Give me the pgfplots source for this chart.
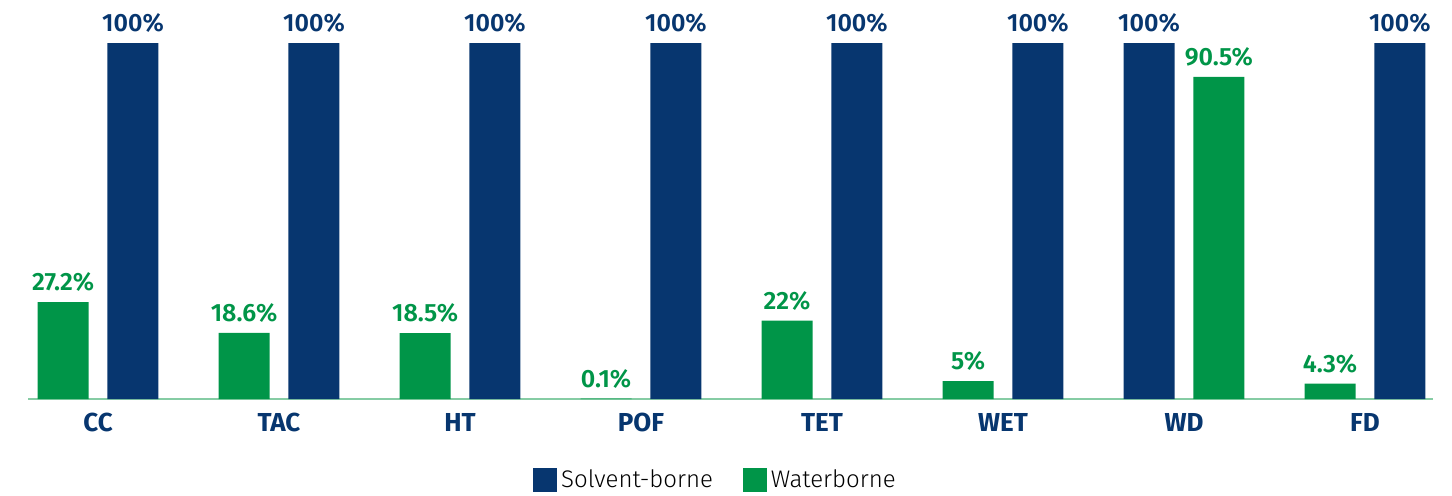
\documentclass[border=0pt]{standalone}
\usepackage{pgfplots}
\pgfplotsset{compat=1.18}
\usepackage{fontspec}
\setmainfont{Fira Sans}[BoldFont={* SemiBold}]
\newfontfamily\lightfont{Fira Sans Light}
\newfontfamily\heavyfont{Fira Sans Bold}

\definecolor{solvent}{HTML}{07366F}
\definecolor{water}{HTML}{009548}
\definecolor{baseline}{HTML}{86CCA4}

\begin{document}
\begin{tikzpicture}
\useasboundingbox (-14pt,-48pt) rectangle (712pt,199.5pt);
\begin{axis}[
  scale only axis,
  width=702.5pt, height=178pt,
  xmin=-0.387, xmax=7.376,
  ymin=0, ymax=100,
  clip=false,
  axis y line=none,
  axis x line*=bottom,
  axis line style={draw=baseline, line width=0.9pt, -},
  major tick length=0pt,
  xtick={0,1,2,3,4,5,6,7},
  xticklabels={CC,TAC,HT,POF,TET,WET,WD,FD},
  xticklabel style={anchor=center, yshift=-11.5pt, inner sep=0pt,
    text=solvent, font=\heavyfont\fontsize{13}{15}\selectfont},
  /pgf/number format/assume math mode=true,
  ybar, bar width=25.5pt, bar shift=0pt,
  nodes near coords={\pgfmathprintnumber[fixed,precision=1,assume math mode=true]{\pgfplotspointmeta}\%},
  every node near coord/.append style={anchor=south, inner sep=0pt, yshift=5pt,
    font=\bfseries\fontsize{12.5}{14}\selectfont},
  legend columns=2,
  legend style={at={(rel axis cs:0.49,-0.2275)}, anchor=center, draw=none,
    font=\lightfont\fontsize{12}{14}\selectfont,
    /tikz/every even column/.append style={column sep=13pt}},
  legend image code/.code={\fill[#1] (0pt,-6pt) rectangle (12pt,6pt);},
]
% Solvent-borne
\addplot[fill=solvent, draw=none, every node near coord/.append style={text=solvent}]
  coordinates {(0.193,100) (1.193,100) (2.193,100) (3.193,100)
               (4.193,100) (5.193,100) (5.807,100) (7.193,100)};
% Waterborne
\addplot[fill=water, draw=none, every node near coord/.append style={text=water}]
  coordinates {(-0.193,27.2) (0.807,18.6) (1.807,18.5) (2.807,0.1)
               (3.807,22) (4.807,5) (6.193,90.5) (6.807,4.3)};
\legend{Solvent-borne, Waterborne}
\end{axis}
\end{tikzpicture}
\end{document}
